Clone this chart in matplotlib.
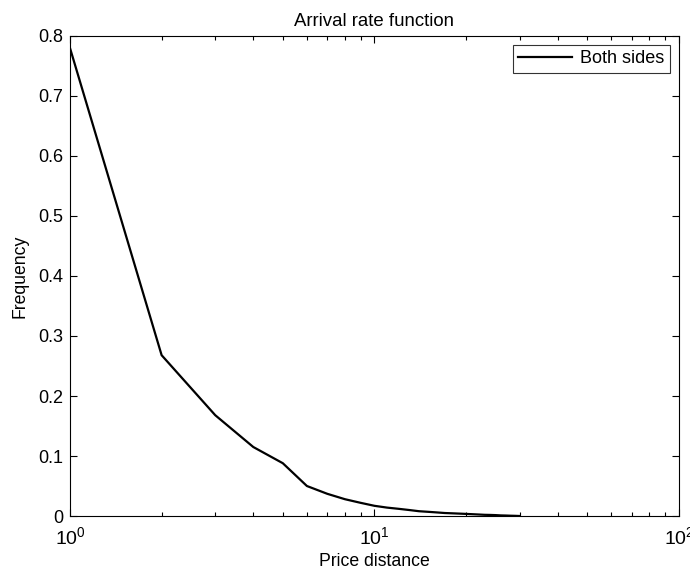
import matplotlib
matplotlib.use('Agg')
import matplotlib.pyplot as plt
import matplotlib.ticker as ticker

plt.rcParams['font.family'] = ['Liberation Sans', 'DejaVu Sans']
plt.rcParams['mathtext.fontset'] = 'custom'
plt.rcParams['mathtext.rm'] = 'Liberation Sans'
plt.rcParams['mathtext.it'] = 'Liberation Sans:italic'
plt.rcParams['font.size'] = 13

# arrival frequency at each price distance (ticks away from best quote)
price_distance = list(range(1, 31))
frequency = [0.780, 0.268, 0.168, 0.115, 0.088, 0.050, 0.037, 0.028, 0.022, 0.017,
             0.014, 0.012, 0.010, 0.008, 0.007, 0.006, 0.005, 0.0045, 0.004, 0.0035,
             0.003, 0.0025, 0.002, 0.0018, 0.0015, 0.001, 0.0008, 0.0005, 0.0003, 0.0]

fig = plt.figure(figsize=(6.9, 5.71), dpi=100)
ax = fig.add_axes([0.1014, 0.0963, 0.8826, 0.8407])
ax.plot(price_distance, frequency, color='black', linewidth=1.6, label='Both sides')

ax.set_xscale('log')
ax.set_xlim(1, 100)
ax.set_ylim(0, 0.8)
ax.yaxis.set_major_locator(ticker.MultipleLocator(0.1))
ax.yaxis.set_major_formatter(ticker.FuncFormatter(lambda v, p: '0' if v == 0 else '%g' % v))

ax.tick_params(which='both', direction='in', top=True, right=True, width=0.8)
ax.tick_params(which='major', length=5)
ax.tick_params(axis='x', which='major', pad=7, labelsize=14)
ax.tick_params(axis='y', which='major', pad=5, labelsize=13)
ax.tick_params(which='minor', length=3)
for s in ax.spines.values():
    s.set_linewidth(0.8)

ax.set_title('Arrival rate function', pad=7, fontsize=13.4)
ax.set_xlabel('Price distance', labelpad=4, fontsize=12.7)
ax.set_ylabel('Frequency', labelpad=7, fontsize=12.7)

leg = ax.legend(loc='upper right', fancybox=False, edgecolor='black',
                borderaxespad=0.5, borderpad=0.3, handlelength=3.0,
                handletextpad=0.45, fontsize=13)
leg.get_frame().set_linewidth(0.8)

fig.savefig('out.png', dpi=100)
